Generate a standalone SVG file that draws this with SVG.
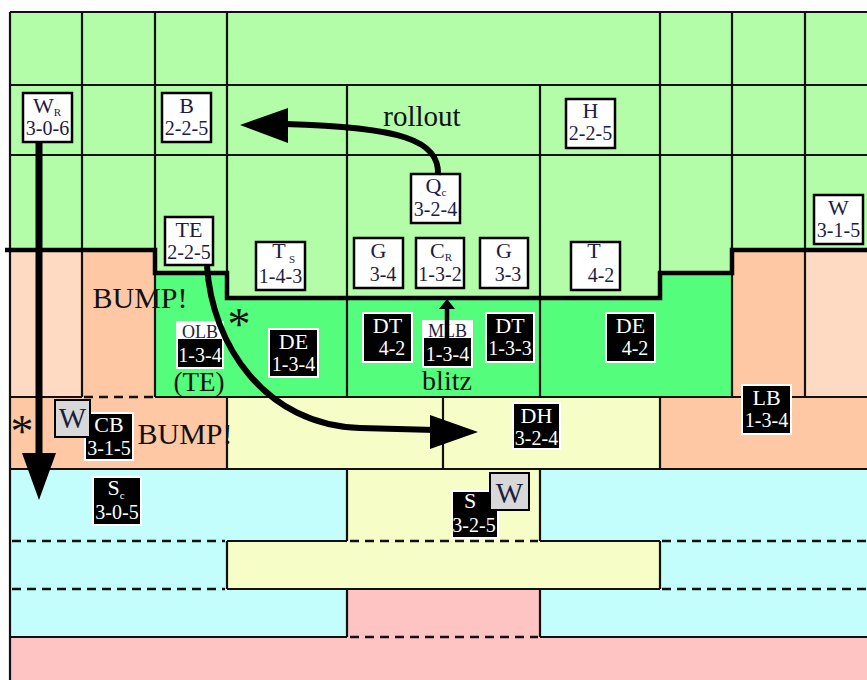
<svg xmlns="http://www.w3.org/2000/svg" width="867" height="680" viewBox="0 0 867 680">
<defs><style>
.t{font-family:"Liberation Serif","Times New Roman",serif;text-anchor:middle}
.g{stroke:#111;stroke-width:2.2;fill:none}
.d{stroke:#111;stroke-width:2.4;fill:none;stroke-dasharray:9 6}
.scr{stroke:#000;stroke-width:4.5;fill:none}
.off rect{fill:#fff;stroke:#000;stroke-width:2.5}
.off text{fill:#1d1d40}
.def rect{fill:#000;stroke:#fff;stroke-width:2}
.def text{fill:#fff}
.def rect.strip{fill:#fff;stroke:none}
.def text.dk{fill:#1d1d40;font-size:18px}
.wb rect{fill:#d8d8d8;stroke:#000;stroke-width:2}
.wb text{fill:#1d1d40;font-size:29px}
.lab{font-size:22px}
.num{font-size:20px}
.sub{font-size:11px}
.big{font-size:30px;fill:#111}
.conn{stroke:#000;fill:none;stroke-width:6}
.head{fill:#000}
</style></defs>
<rect x="0" y="0" width="867" height="680" fill="#fff"/>
<g id="zones">
<polygon fill="#b3fda9" points="10,12 867,12 867,250 732,250 732,273 660,273 660,298 227,298 227,273 155,273 155,250 10,250"/>
<polygon fill="#55fd7d" points="155,273 227,273 227,298 660,298 660,273 732,273 732,397 155,397"/>
<rect fill="#fedac3" x="10" y="250" width="72" height="147"/>
<rect fill="#fec8a5" x="82" y="250" width="73" height="147"/>
<rect fill="#fec8a5" x="732" y="250" width="73" height="147"/>
<rect fill="#fedac3" x="805" y="250" width="62" height="147"/>
<rect fill="#fec8a5" x="10" y="397" width="217" height="72"/>
<rect fill="#f7fdc6" x="227" y="397" width="433" height="72"/>
<rect fill="#fec8a5" x="660" y="397" width="207" height="72"/>
<rect fill="#c3fefd" x="10" y="469" width="857" height="168"/>
<rect fill="#f7fdc6" x="347" y="469" width="193" height="72"/>
<rect fill="#f7fdc6" x="227" y="541" width="433" height="48"/>
<rect fill="#fec3c3" x="347" y="589" width="193" height="48"/>
<rect fill="#fec3c3" x="10" y="637" width="857" height="43"/>
</g>
<g id="grid">
<path class="g" d="M10,12H867M10,85H867M10,155H867M10,397H82M155,397H867M10,469H867M227,541H347M540,541H660M227,589H660M10,637H347M540,637H867M10,12V680M82,12V397M155,12V397M227,12V273M227,397V469M227,541V589M347,85V397M347,469V541M347,589V637M443,397V469M540,85V397M540,469V541M540,589V637M660,12V273M660,397V469M660,541V589M732,12V397M805,12V397"/>
<path class="d" d="M84,397H155M12,541H225M350,541H538M662,541H867M12,589H225M662,589H867M350,637H538"/>
<path class="scr" d="M5,250H155V273H227V298H660V273H732V250H867"/>
</g>
<g id="labels">
<text class="t big" x="422" y="126" style="font-size:29px">rollout</text>
<text class="t big" x="140" y="308">BUMP!</text>
<text class="t big" x="185" y="444">BUMP!</text>
<text class="t big" x="199" y="391" style="font-size:27px">(TE)</text>
<text class="t big" x="447" y="390" style="font-size:28px">blitz</text>
<text class="t big" x="22" y="447" style="font-size:46px">*</text>
<text class="t big" x="239" y="340" style="font-size:46px">*</text>
</g>
<g id="n-wr" class="off"><rect x="23" y="93" width="49" height="49"/><text class="t lab" x="47" y="113">W<tspan class="sub" dy="3">R</tspan></text><text class="t num" x="47.5" y="135">3-0-6</text></g>
<g id="n-b" class="off"><rect x="162" y="93" width="49" height="49"/><text class="t lab" x="186.5" y="113">B</text><text class="t num" x="186.5" y="135">2-2-5</text></g>
<g id="n-h" class="off"><rect x="566" y="99" width="49" height="49"/><text class="t lab" x="590.5" y="118">H</text><text class="t num" x="590.5" y="140">2-2-5</text></g>
<g id="n-q" class="off"><rect x="411" y="174" width="49" height="49"/><text class="t lab" x="436" y="193">Q<tspan class="sub" dy="3">c</tspan></text><text class="t num" x="435.5" y="216">3-2-4</text></g>
<g id="n-te" class="off"><rect x="165" y="217" width="48" height="48"/><text class="t lab" x="189" y="237">TE</text><text class="t num" x="189" y="259">2-2-5</text></g>
<g id="n-ts" class="off"><rect x="256" y="242" width="49" height="48"/><text class="t lab" x="279" y="258">T</text><text class="t sub" x="292" y="263" style="font-size:11px">S</text><text class="t num" x="280.5" y="283">1-4-3</text></g>
<g id="n-g1" class="off"><rect x="354" y="238" width="49" height="50"/><text class="t lab" x="378.5" y="258">G</text><text class="t num" x="383" y="281">3-4</text></g>
<g id="n-c" class="off"><rect x="416" y="238" width="48" height="50"/><text class="t lab" x="441" y="258">C<tspan class="sub" dy="3">R</tspan></text><text class="t num" x="440" y="281">1-3-2</text></g>
<g id="n-g2" class="off"><rect x="480" y="238" width="48" height="50"/><text class="t lab" x="504" y="258">G</text><text class="t num" x="508" y="281">3-3</text></g>
<g id="n-t2" class="off"><rect x="571" y="242" width="49" height="48"/><text class="t lab" x="594" y="258">T</text><text class="t num" x="601" y="282">4-2</text></g>
<g id="n-w2" class="off"><rect x="814" y="195" width="49" height="49"/><text class="t lab" x="838.5" y="215">W</text><text class="t num" x="838.5" y="237">3-1-5</text></g>
<g id="n-olb" class="def"><rect x="177" y="322" width="46" height="46"/><rect class="strip" x="178" y="323" width="44" height="16"/><text class="t dk" x="200" y="338">OLB</text><text class="t num" x="200" y="362">1-3-4</text></g>
<g id="n-de1" class="def"><rect x="269" y="329" width="49" height="48"/><text class="t lab" x="293.5" y="349">DE</text><text class="t num" x="293.5" y="371">1-3-4</text></g>
<g id="n-dt1" class="def"><rect x="363" y="313" width="49" height="49"/><text class="t lab" x="387.5" y="333">DT</text><text class="t num" x="392" y="355">4-2</text></g>
<g id="n-mlb" class="def"><rect x="423" y="321" width="49" height="46"/><rect class="strip" x="424" y="322" width="47" height="16"/><text class="t dk" x="447.5" y="337">MLB</text><text class="t num" x="447.5" y="361">1-3-4</text></g>
<g id="n-dt2" class="def"><rect x="486" y="313" width="48" height="49"/><text class="t lab" x="510" y="333">DT</text><text class="t num" x="510" y="355">1-3-3</text></g>
<g id="n-de2" class="def"><rect x="606" y="313" width="49" height="49"/><text class="t lab" x="630.5" y="333">DE</text><text class="t num" x="635" y="355">4-2</text></g>
<g id="n-dh" class="def"><rect x="513" y="403" width="47" height="46"/><text class="t lab" x="536.5" y="423">DH</text><text class="t num" x="536.5" y="445">3-2-4</text></g>
<g id="n-lb" class="def"><rect x="742" y="385" width="49" height="49"/><text class="t lab" x="766.5" y="405">LB</text><text class="t num" x="766.5" y="427">1-3-4</text></g>
<g id="n-cb" class="def"><rect x="85" y="413" width="48" height="47"/><text class="t lab" x="109" y="432">CB</text><text class="t num" x="109" y="455">3-1-5</text></g>
<g id="n-wg1" class="wb"><rect x="55" y="400" width="35" height="37"/><text class="t" x="72.5" y="428">W</text></g>
<g id="n-sc" class="def"><rect x="93" y="477" width="48" height="48"/><text class="t lab" x="116" y="495">S<tspan class="sub" dy="4">c</tspan></text><text class="t num" x="117" y="519">3-0-5</text></g>
<g id="n-s2" class="def"><rect x="452" y="491" width="46" height="47"/><text class="t lab" x="470" y="508">S</text><text class="t num" x="474" y="532">3-2-5</text></g>
<g id="n-wg2" class="wb"><rect x="490" y="473" width="39" height="37"/><text class="t" x="509.5" y="503">W</text></g>
<g id="connectors">
<path class="conn" d="M39,143V458" style="stroke-width:7"/>
<polygon class="head" points="22,453 56,453 39,500"/>
<path class="conn" d="M438,175C440,140 400,127 285,124"/>
<polygon class="head" points="240,125 288,108 288,143"/>
<path class="conn" d="M207,266C212,345 265,425 360,428L435,430"/>
<polygon class="head" points="478,432 430,415 430,449"/>
<path class="conn" d="M447,338V306" style="stroke-width:4.5"/>
<polygon class="head" points="447,299 439,309 455,309"/>
</g>
</svg>
